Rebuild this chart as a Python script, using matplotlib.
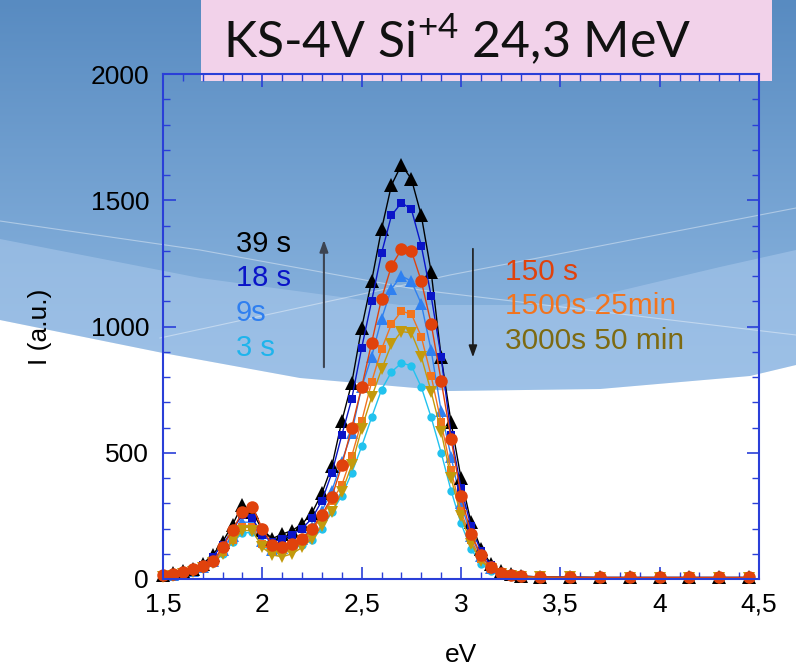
import numpy as np
import matplotlib
matplotlib.use("Agg")
import matplotlib.pyplot as plt
from matplotlib.patches import Rectangle, Polygon

# ---------------- data ----------------
energy = [1.50, 1.55, 1.60, 1.65, 1.70, 1.75, 1.80, 1.85, 1.90, 1.95,
          2.00, 2.05, 2.10, 2.15, 2.20, 2.25, 2.30, 2.35, 2.40, 2.45,
          2.50, 2.55, 2.60, 2.65, 2.70, 2.75, 2.80, 2.85, 2.90, 2.95,
          3.00, 3.05, 3.10, 3.15, 3.20, 3.25, 3.30,
          3.40, 3.55, 3.70, 3.85, 4.00, 4.15, 4.30, 4.45]

s39 = [15, 22, 30, 40, 60, 95, 147, 215, 295, 265,
       195, 160, 178, 192, 218, 262, 340, 447, 625, 776,
       995, 1180, 1385, 1560, 1640, 1585, 1440, 1215, 880, 620,
       400, 225, 120, 60, 30, 18, 12,
       8, 7, 6, 6, 6, 6, 6, 6]
s18 = [12, 18, 26, 36, 55, 88, 135, 195, 255, 240,
       175, 145, 160, 175, 200, 240, 310, 420, 570, 713,
       915, 1100, 1290, 1440, 1490, 1465, 1320, 1120, 880, 570,
       360, 210, 110, 55, 28, 16, 11,
       8, 7, 6, 6, 6, 6, 6, 6]
s150 = [15, 20, 28, 38, 50, 70, 125, 195, 265, 285,
        200, 135, 128, 138, 158, 200, 255, 325, 450, 600,
        760, 935, 1110, 1240, 1305, 1300, 1180, 1010, 785, 555,
        330, 180, 95, 48, 25, 15, 10,
        8, 7, 6, 6, 6, 6, 6, 6]
s9 = [12, 17, 24, 33, 48, 72, 115, 170, 225, 225,
      150, 115, 122, 135, 160, 205, 270, 350, 465, 580,
      760, 880, 1030, 1150, 1200, 1180, 1090, 905, 665, 485,
      300, 170, 90, 45, 24, 14, 10,
      7, 6, 5, 5, 5, 5, 5, 5]
s1500 = [10, 15, 22, 30, 45, 68, 105, 155, 205, 205,
         140, 110, 112, 125, 148, 190, 250, 310, 372, 487,
         625, 780, 910, 1010, 1060, 1050, 960, 803, 620, 430,
         270, 155, 80, 40, 22, 13, 9,
         7, 6, 5, 5, 5, 5, 5, 5]
s3000 = [8, 13, 20, 28, 42, 62, 100, 150, 192, 192,
         125, 95, 88, 100, 125, 160, 210, 265, 344, 451,
         596, 720, 830, 930, 980, 975, 880, 741, 583, 400,
         250, 140, 72, 38, 20, 12, 8,
         7, 6, 5, 5, 5, 5, 5, 5]
s3 = [10, 14, 20, 28, 42, 62, 98, 145, 182, 185,
      135, 105, 108, 118, 135, 155, 200, 265, 330, 420,
      525, 640, 750, 820, 855, 845, 760, 640, 500, 350,
      220, 120, 60, 32, 18, 11, 8,
      6, 5, 5, 5, 5, 5, 5, 5]

left_labels = ["39 s", "18 s", "9s", "3 s"]
left_colors = ["#000000", "#0a14c8", "#2f7ff0", "#1eb4ec"]
right_labels = ["150 s", "1500s 25min", "3000s 50 min"]
right_colors = ["#e0420c", "#f2741e", "#7d6a12"]

xticks = [1.5, 2.0, 2.5, 3.0, 3.5, 4.0, 4.5]
xticklabels = ["1,5", "2", "2,5", "3", "3,5", "4", "4,5"]
yticks = [0, 500, 1000, 1500, 2000]

# ---------------- figure ----------------
W, H = 796, 668
fig = plt.figure(figsize=(W / 100, H / 100), dpi=100)

# background (slide)
bg = fig.add_axes([0, 0, 1, 1], zorder=-10)
bg.set_xlim(0, W)
bg.set_ylim(H, 0)
bg.axis("off")
top_c = np.array([88, 139, 193]) / 255
bot_c = np.array([150, 190, 230]) / 255
t = np.linspace(0, 1, 400)[:, None, None]
grad = top_c * (1 - t) + bot_c * t
grad = np.repeat(grad, 2, axis=1)
bg.imshow(grad, extent=[0, W, 420, 0], aspect="auto", zorder=0)
bg.add_patch(Rectangle((0, 420), W, H - 420, color="white", zorder=0))
# light band
band_top = [(0, 239), (200, 278), (400, 305), (560, 305), (720, 267), (796, 250)]
white_edge = [(796, 365), (750, 376), (600, 389), (450, 391), (300, 378), (163, 353), (0, 320)]
bg.add_patch(Polygon(band_top + white_edge, closed=True, facecolor="#a6c6ea",
                     edgecolor="none", alpha=0.6, zorder=1))
# white area below the wave
bg.add_patch(Polygon(white_edge + [(0, H), (W, H)], closed=True, facecolor="white",
                     edgecolor="none", zorder=2))
# thin decorative lines
bg.plot([0, 200, 420, 796], [221, 250, 290, 335], color="white", lw=0.8, alpha=0.4, zorder=3)
bg.plot([160, 450, 796], [338, 275, 208], color="white", lw=0.8, alpha=0.4, zorder=3)

# title box
bg.add_patch(Rectangle((201, 0), 571, 81, facecolor="#f2d2ea", edgecolor="none", zorder=5))
plt.rcParams["mathtext.fontset"] = "custom"
plt.rcParams["mathtext.rm"] = "Lato"
bg.text(223, 39, r"KS-4V Si$^{\mathrm{+4}}$ 24,3 MeV", fontsize=36, family="Lato",
        va="center", ha="left", color="#111111", zorder=6)

# main axes
ax = fig.add_axes([163 / W, 1 - 579 / H, (759 - 163) / W, (579 - 74) / H])
ax.set_facecolor("none")

axis_col = "#2a3fd8"
styles = [
    (s3, "#22c2ee", "o", 6),
    (s9, "#2f80f0", "^", 8),
    (s1500, "#f2741e", "s", 6),
    (s39, "#000000", "^", 10),
    (s18, "#0a14c8", "s", 6),
    (s3000, "#c39a0c", "v", 9),
    (s150, "#e0420c", "o", 9),
]
for vals, col, mk, ms in styles:
    ax.plot(energy, vals, color=col, lw=1.0, marker=mk, markersize=ms,
            markeredgewidth=0, clip_on=False)

ax.set_xlim(1.5, 4.5)
ax.set_ylim(0, 2000)
ax.set_xticks(xticks)
ax.set_xticklabels(xticklabels)
ax.set_yticks(yticks)
ax.set_xticks(np.arange(1.5, 4.51, 0.1), minor=True)
ax.set_yticks(np.arange(0, 2001, 100), minor=True)

for lab in ax.get_xticklabels() + ax.get_yticklabels():
    lab.set_fontfamily("Liberation Sans")
    lab.set_fontsize(19)
ax.tick_params(which="both", direction="in", top=True, right=True, color=axis_col)
ax.tick_params(which="major", length=9, width=1.2, pad=10)
ax.tick_params(which="minor", length=5, width=1.0)
for sp in ax.spines.values():
    sp.set_color(axis_col)
    sp.set_linewidth(1.5)

ax.set_xlabel("eV", fontsize=19, family="Liberation Sans", labelpad=19)
ax.set_ylabel("I (a.u.)", fontsize=19, family="Liberation Sans", labelpad=28)

# annotations
ly = [1327, 1192, 1053, 915]
for lab, col, yv in zip(left_labels, left_colors, ly):
    ax.text(1.867, yv, lab, color=col, fontsize=21, family="Liberation Sans",
            va="center", ha="left")
ry = [1216, 1081, 943]
for lab, col, yv in zip(right_labels, right_colors, ry):
    ax.text(3.222, yv, lab, color=col, fontsize=21.5, family="Liberation Sans",
            va="center", ha="left")

ax.annotate("", xy=(2.31, 1354), xytext=(2.31, 828),
            arrowprops=dict(arrowstyle="-|>,head_length=0.7,head_width=0.25",
                            color="#3c4452", lw=1.5))
ax.annotate("", xy=(3.06, 867), xytext=(3.06, 1319),
            arrowprops=dict(arrowstyle="-|>,head_length=0.7,head_width=0.25",
                            color="#1c1c1c", lw=1.2))

fig.savefig("out.png", dpi=100)
